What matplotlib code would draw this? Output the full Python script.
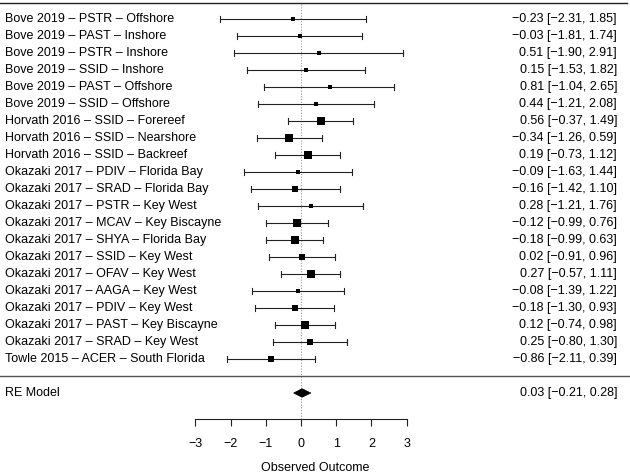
import numpy as np
import matplotlib.pyplot as plt
from matplotlib.patches import Polygon

plt.rcParams['font.family'] = ['Liberation Sans', 'DejaVu Sans']

labels = [
    "Bove 2019 – PSTR – Offshore",
    "Bove 2019 – PAST – Inshore",
    "Bove 2019 – PSTR – Inshore",
    "Bove 2019 – SSID – Inshore",
    "Bove 2019 – PAST – Offshore",
    "Bove 2019 – SSID – Offshore",
    "Horvath 2016 – SSID – Forereef",
    "Horvath 2016 – SSID – Nearshore",
    "Horvath 2016 – SSID – Backreef",
    "Okazaki 2017 – PDIV – Florida Bay",
    "Okazaki 2017 – SRAD – Florida Bay",
    "Okazaki 2017 – PSTR – Key West",
    "Okazaki 2017 – MCAV – Key Biscayne",
    "Okazaki 2017 – SHYA – Florida Bay",
    "Okazaki 2017 – SSID – Key West",
    "Okazaki 2017 – OFAV – Key West",
    "Okazaki 2017 – AAGA – Key West",
    "Okazaki 2017 – PDIV – Key West",
    "Okazaki 2017 – PAST – Key Biscayne",
    "Okazaki 2017 – SRAD – Key West",
    "Towle 2015 – ACER – South Florida",
]
est = [-0.23, -0.03, 0.51, 0.15, 0.81, 0.44, 0.56, -0.34, 0.19, -0.09, -0.16,
       0.28, -0.12, -0.18, 0.02, 0.27, -0.08, -0.18, 0.12, 0.25, -0.86]
lower = [-2.31, -1.81, -1.90, -1.53, -1.04, -1.21, -0.37, -1.26, -0.73, -1.63, -1.42,
         -1.21, -0.99, -0.99, -0.91, -0.57, -1.39, -1.30, -0.74, -0.80, -2.11]
upper = [1.85, 1.74, 2.91, 1.82, 2.65, 2.08, 1.49, 0.59, 1.12, 1.44, 1.10,
         1.76, 0.76, 0.63, 0.96, 1.11, 1.22, 0.93, 0.98, 1.30, 0.39]
re_est, re_lower, re_upper = 0.03, -0.21, 0.28

est = np.array(est)
lower = np.array(lower)
upper = np.array(upper)
k = len(est)
rows = np.arange(k, 0, -1)

# weights from CI widths (inverse variance) -> square size
se = (upper - lower) / (2 * 1.96)
w = 1 / se**2
frac = (w - w.min()) / (w.max() - w.min())
msize = (3.4 + frac * 5.0) * 0.72  # pixels -> points

fig = plt.figure(figsize=(6.3, 4.74), dpi=100)
ax = fig.add_axes([0, 0, 1, 1])
unit = 35.2
ax.set_xlim(-301 / unit, (630 - 301) / unit)
ax.set_ylim(-98 / 17, 376 / 17)

lc = '#222222'
fs = 9
cap = 0.15

for r, e, lo, hi, ms in zip(rows, est, lower, upper, msize):
    ax.plot([lo, hi], [r, r], color=lc, lw=0.8)
    ax.plot([lo, lo], [r - cap, r + cap], color=lc, lw=0.8)
    ax.plot([hi, hi], [r - cap, r + cap], color=lc, lw=0.8)
    ax.plot(e, r, marker='s', color='black', ms=ms, mew=0, ls='none', zorder=4)

xl = ax.get_xlim()
left_x = xl[0] + 5 / unit
right_x = xl[0] + 617 / unit
for r, lab, e, lo, hi in zip(rows, labels, est, lower, upper):
    ax.text(left_x, r, lab, ha='left', va='center', fontsize=fs)
    ax.text(right_x, r, f"{e:.2f} [{lo:.2f}, {hi:.2f}]".replace('-', '\u2212'),
            ha='right', va='center', fontsize=fs)

# summary
axis_row = -2.53
h = 0.25
ax.add_patch(Polygon([[re_lower, -1], [re_est, -1 + h], [re_upper, -1], [re_est, -1 - h]],
                     closed=True, facecolor='black', edgecolor='black', lw=0.5, zorder=4))
ax.text(left_x, -1, "RE Model", ha='left', va='center', fontsize=fs)
ax.text(right_x, -1, f"{re_est:.2f} [{re_lower:.2f}, {re_upper:.2f}]".replace('-', '\u2212'),
        ha='right', va='center', fontsize=fs)

# lines
ax.plot([xl[0], xl[0] + 627 / unit], [k + 0.95, k + 0.95], color=lc, lw=1)
ax.plot([xl[0], xl[1]], [0, 0], color='#555555', lw=1)
ax.plot([0, 0], [axis_row, k + 0.95], color='#999999', lw=0.8, ls=(0, (1, 1.5)), zorder=1)

# x axis
for s in ['top', 'left', 'right']:
    ax.spines[s].set_visible(False)
ax.spines['bottom'].set_position(('data', axis_row))
ax.spines['bottom'].set_bounds(-3, 3)
ax.spines['bottom'].set_color(lc)
ax.spines['bottom'].set_linewidth(0.8)
ax.set_xticks(range(-3, 4))
ax.set_xticklabels([str(t).replace('-', '\u2212') for t in range(-3, 4)])
ax.tick_params(axis='x', direction='out', length=5, width=0.8, color=lc, labelsize=fs, pad=9)
ax.set_yticks([])
ax.set_xlabel("Observed Outcome", fontsize=fs, labelpad=8)
ax.patch.set_visible(False)

fig.savefig("out.png", dpi=100)
